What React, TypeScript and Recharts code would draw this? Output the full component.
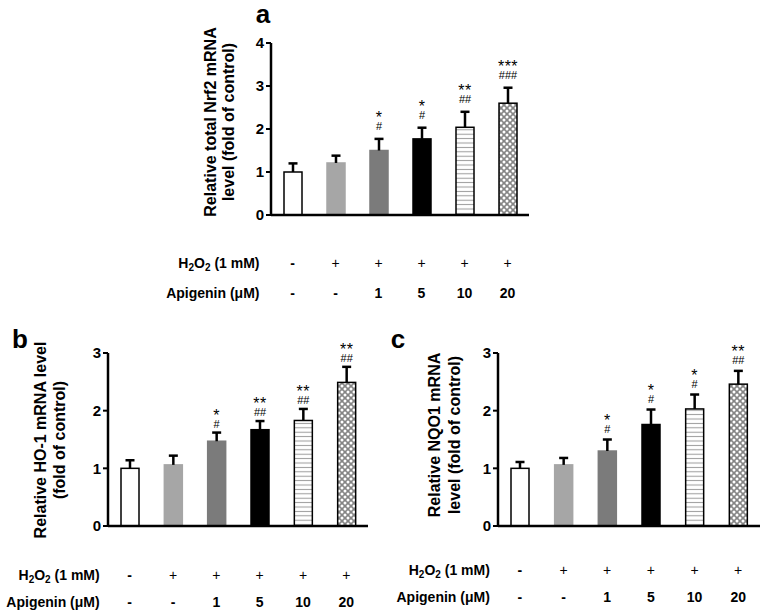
import { BarChart, Bar, XAxis, YAxis } from 'recharts';

// treatment groups (same for all three panels)
const groups = ['Control', 'H2O2', 'H2O2 + Api 1', 'H2O2 + Api 5', 'H2O2 + Api 10', 'H2O2 + Api 20'];
const h2o2Row = ['-', '+', '+', '+', '+', '+'];
const apigeninRow = ['-', '-', '1', '5', '10', '20'];

// a: Nrf2
const nrf2Mean = [1.0, 1.21, 1.5, 1.77, 2.04, 2.6];
const nrf2Sem = [0.2, 0.17, 0.27, 0.26, 0.36, 0.36];
const nrf2Stars = ['', '', '*', '*', '**', '***'];
const nrf2Hash = ['', '', '#', '#', '##', '###'];

// b: HO-1
const ho1Mean = [1.0, 1.06, 1.47, 1.67, 1.83, 2.49];
const ho1Sem = [0.14, 0.16, 0.15, 0.15, 0.2, 0.27];
const ho1Stars = ['', '', '*', '**', '**', '**'];
const ho1Hash = ['', '', '#', '##', '##', '##'];

// c: NQO1
const nqo1Mean = [1.0, 1.06, 1.3, 1.76, 2.03, 2.46];
const nqo1Sem = [0.11, 0.12, 0.2, 0.26, 0.25, 0.23];
const nqo1Stars = ['', '', '*', '*', '*', '**'];
const nqo1Hash = ['', '', '#', '#', '#', '##'];

const FONT = '"Liberation Sans", Arial, Helvetica, sans-serif';

const buildRows = (mean: number[], sem: number[], stars: string[], hash: string[]) =>
  groups.map((g, i) => ({ group: g, mean: mean[i], sem: sem[i], stars: stars[i], hash: hash[i] }));

const fillFor = (id: string, i: number) =>
  ['#ffffff', '#a6a6a6', '#7b7b7b', '#000000', `url(#stripes-${id})`, `url(#checks-${id})`][i];
const strokeFor = (i: number) => ['#000', '#a6a6a6', '#7b7b7b', '#000', '#000', '#000'][i];

function makeShape(id: string, gap: number) {
  return (props: any) => {
    const { x, y, width, height, payload, index } = props;
    const ppu = height / payload.mean;
    const top = y - payload.sem * ppu;
    const cx = x + width / 2;
    const starBase = top - gap - 12 + 9;
    const hashBase = top - gap + 4;
    return (
      <g>
        <rect x={x} y={y} width={width} height={height} fill={fillFor(id, index)} stroke={strokeFor(index)} strokeWidth={1.5} />
        <line x1={cx} x2={cx} y1={y} y2={top} stroke="#000" strokeWidth={2.5} />
        <line x1={cx - 4.5} x2={cx + 4.5} y1={top} y2={top} stroke="#000" strokeWidth={2.5} />
        {payload.stars && (
          <text x={cx} y={starBase} textAnchor="middle" fill="#000">
            <tspan x={cx} y={starBase} fontSize={16} letterSpacing={0.5}>{payload.stars}</tspan>
            <tspan x={cx} y={hashBase} fontSize={11}>{payload.hash}</tspan>
          </text>
        )}
      </g>
    );
  };
}

function makeTableTick(row1: number, row2: number, labelGap: number, fs: number) {
  return (props: any) => {
    const { x, y, index } = props;
    const b1 = y + row1 + fs * 0.36;
    const b2 = y + row2 + fs * 0.36;
    return (
      <g fontWeight="bold" fontSize={fs} fill="#000">
        {index === 0 && (
          <>
            <text x={x - labelGap} y={b1} textAnchor="end" fill="#000">
              <tspan>H</tspan>
              <tspan dy={3} fontSize={fs - 4}>2</tspan>
              <tspan dy={-3}>O</tspan>
              <tspan dy={3} fontSize={fs - 4}>2</tspan>
              <tspan dy={-3}> (1 mM)</tspan>
            </text>
            <text x={x - labelGap} y={b2} textAnchor="end" fill="#000">Apigenin (μM)</text>
          </>
        )}
        <text x={x} y={b1} textAnchor="middle" fill="#000" fontWeight={h2o2Row[index] === '+' ? 'normal' : 'bold'}>
          {h2o2Row[index]}
        </text>
        <text x={x} y={b2} textAnchor="middle" fill="#000">{apigeninRow[index]}</text>
      </g>
    );
  };
}

interface PanelProps {
  id: string;
  letter: string;
  rows: any[];
  left: number;
  top: number;
  width: number;
  height: number;
  margin: { top: number; right: number; bottom: number; left: number };
  yMax: number;
  xAxisHeight: number;
  labelLines: string[];
  labelX: number[];
  labelY: number;
  letterX: number;
  letterY: number;
  gap: number;
  row1: number;
  row2: number;
  rowGap: number;
  rowFont: number;
}

function Panel(p: PanelProps) {
  const ticks = Array.from({ length: p.yMax + 1 }, (_, i) => i);
  return (
    <div style={{ position: 'absolute', left: p.left, top: p.top }}>
      <BarChart width={p.width} height={p.height} data={p.rows} margin={p.margin} barCategoryGap={0}>
        <defs>
          <pattern id={`stripes-${p.id}`} patternUnits="userSpaceOnUse" width={6} height={4.4}>
            <rect width={6} height={4.4} fill="#fff" />
            <line x1={0} x2={6} y1={2.2} y2={2.2} stroke="#9a9a9a" strokeWidth={1} />
          </pattern>
          <pattern id={`checks-${p.id}`} patternUnits="userSpaceOnUse" width={6} height={6}>
            <rect width={6} height={6} fill="#858585" />
            <circle cx={0} cy={0} r={1.5} fill="#fff" />
            <circle cx={6} cy={0} r={1.5} fill="#fff" />
            <circle cx={0} cy={6} r={1.5} fill="#fff" />
            <circle cx={6} cy={6} r={1.5} fill="#fff" />
            <circle cx={3} cy={3} r={1.5} fill="#fff" />
          </pattern>
        </defs>
        <XAxis
          dataKey="group"
          height={p.xAxisHeight}
          tickSize={0}
          tickMargin={0}
          tickLine={false}
          axisLine={{ stroke: '#000', strokeWidth: 2.5 }}
          tick={makeTableTick(p.row1, p.row2, p.rowGap, p.rowFont)}
          interval={0}
        />
        <YAxis
          domain={[0, p.yMax]}
          ticks={ticks}
          width={40}
          tickSize={5}
          tickMargin={2}
          axisLine={{ stroke: '#000', strokeWidth: 2.5 }}
          tickLine={{ stroke: '#000', strokeWidth: 2 }}
          tick={{ fill: '#000', fontSize: 15, fontWeight: 'bold' }}
        />
        <Bar dataKey="mean" barSize={18} isAnimationActive={false} shape={makeShape(p.id, p.gap)} />
        <text x={p.letterX} y={p.letterY} fontSize={26} fontWeight="bold" fill="#000" textAnchor="middle">
          {p.letter}
        </text>
        {p.labelLines.map((line, i) => (
          <text
            key={i}
            x={p.labelX[i]}
            y={p.labelY}
            transform={`rotate(-90 ${p.labelX[i]} ${p.labelY})`}
            textAnchor="middle"
            fontSize={16}
            fontWeight="bold"
            fill="#000"
          >
            {line}
          </text>
        ))}
      </BarChart>
    </div>
  );
}

export default function App() {
  return (
    <div style={{ position: 'absolute', left: 0, top: 0, width: 762, height: 613, background: '#fff', fontFamily: FONT }}>
      <Panel
        id="a"
        letter="a"
        rows={buildRows(nrf2Mean, nrf2Sem, nrf2Stars, nrf2Hash)}
        left={0}
        top={0}
        width={762}
        height={310}
        margin={{ top: 43, right: 233, bottom: 0, left: 231 }}
        yMax={4}
        xAxisHeight={95}
        labelLines={['Relative total Nrf2 mRNA', 'level (fold of control)']}
        labelX={[216, 234]}
        labelY={122}
        letterX={263}
        letterY={23}
        gap={13}
        row1={48}
        row2={78}
        rowGap={33}
        rowFont={14}
      />
      <Panel
        id="b"
        letter="b"
        rows={buildRows(ho1Mean, ho1Sem, ho1Stars, ho1Hash)}
        left={0}
        top={320}
        width={380}
        height={293}
        margin={{ top: 33, right: 12, bottom: 0, left: 68 }}
        yMax={3}
        xAxisHeight={87}
        labelLines={['Relative HO-1 mRNA level', '(fold of control)']}
        labelX={[46, 65]}
        labelY={120}
        letterX={20}
        letterY={28}
        gap={9}
        row1={49}
        row2={76}
        rowGap={30}
        rowFont={14}
      />
      <Panel
        id="c"
        letter="c"
        rows={buildRows(nqo1Mean, nqo1Sem, nqo1Stars, nqo1Hash)}
        left={380}
        top={320}
        width={382}
        height={293}
        margin={{ top: 33, right: 2, bottom: 0, left: 78 }}
        yMax={3}
        xAxisHeight={87}
        labelLines={['Relative NQO1 mRNA', 'level (fold of control)']}
        labelX={[60, 80]}
        labelY={115}
        letterX={18}
        letterY={28}
        gap={11}
        row1={44}
        row2={71}
        rowGap={30}
        rowFont={14}
      />
    </div>
  );
}
